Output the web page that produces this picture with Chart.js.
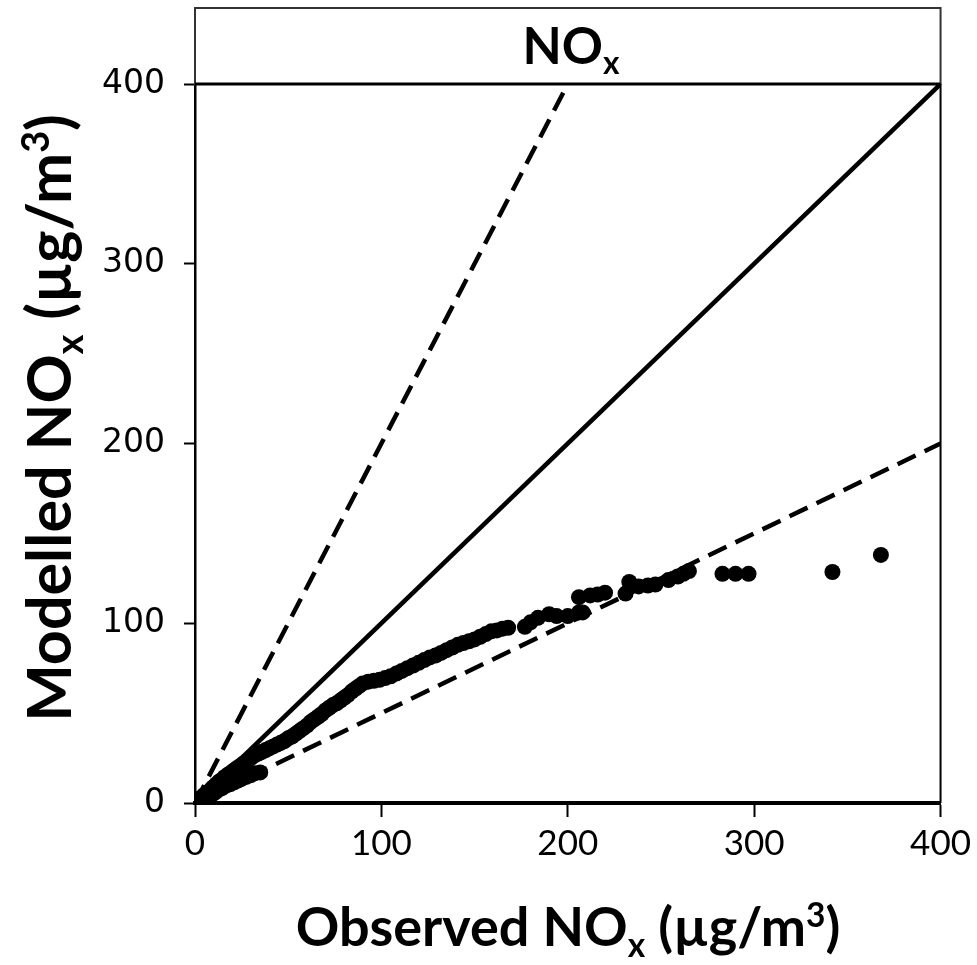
<!DOCTYPE html>
<html>
<head>
<meta charset="utf-8">
<script src="https://cdn.jsdelivr.net/npm/chart.js@4"></script>
<style>
html,body{margin:0;padding:0;background:#fff;}
canvas{display:block;}
</style>
</head>
<body>
<canvas id="c" width="977" height="965"></canvas>
<script>
// ---- data ----
const obsNOx = [0.5,1,1.5,2,2.5,3,3.5,4,5,5.5,6,7,7.5,8,9,9.5,10,11,11.5,12,13,14,14.5,15.5,16,17,18,19,20,21,22,23,24,25,26,27.5,28,30,30,32,32,34,35,36,38,40,42,44,46,48,50,52,54,56,58,60,62,64,66,68,70,72,74,76,78,80,82,84,86,88,90,93,96,99,102,105,108,111,114,117,120,123,126,129,132,135,138,141,144,147,150,153,156,159,162,165,168,177,180,184,190,194,200,206,208,206,212,216,220,231,233,238,243,247,254,259,262,265,283,290,297,342,368];
const modNOx = [0.5,0.3,1.5,1,2.5,1.5,3,2,4.5,2.5,5,3.5,6.5,4.5,8,5,9,6,10.5,7,12,8,13,9,14.5,10,16,10.5,17.5,11.5,19,12.5,20.5,13.5,22,14.5,23.5,15.5,25,16.5,26.5,27.5,17,28.5,29.5,30.5,31.5,32.5,33.5,34.5,36,37,38.5,40,41.5,43,45,46.5,48,49.5,51.5,53,54.5,55.5,57,58.5,60,62,63.5,65,66.5,67.5,68,68.5,69.5,70.5,72,73.5,75,76.5,78,79.5,81,82,83.5,85,86.5,88,89,90,91,92.5,94,95.5,96,97,97.5,98,100.5,103,105,104,104,106,106,114.5,115.5,116,117,116.5,123,120.5,121,121.5,124,126,127.5,129,127.5,127.5,127.5,128.5,138];
const lineX_1to1 = [0, 400];
const lineY_1to1 = [0, 400];
const lineX_2to1 = [0, 200];
const lineY_2to1 = [0, 400];
const lineX_1to2 = [0, 400];
const lineY_1to2 = [0, 200];
const axisTicks = [0, 100, 200, 300, 400];
const titleText = [{t:'NO'},{t:'x',sub:true}];
const xTitleText = [{t:'Observed NO'},{t:'x',sub:true},{t:' (µg/m'},{t:'3',sup:true},{t:')'}];
const yTitleText = [{t:'Modelled NO'},{t:'x',sub:true},{t:' (µg/m'},{t:'3',sup:true},{t:')'}];

const pts = (xs, ys) => xs.map((x, i) => ({x: x, y: ys[i]}));

function drawRich(ctx, segs, cx, baseY, size, family, weight) {
  const f = (s) => weight + ' ' + s + 'px ' + family;
  let total = 0;
  const widths = segs.map(sg => {
    ctx.font = f(sg.sub || sg.sup ? size * 0.62 : size);
    const w = ctx.measureText(sg.t).width;
    total += w;
    return w;
  });
  let x = cx - total / 2;
  ctx.textAlign = 'left';
  ctx.textBaseline = 'alphabetic';
  segs.forEach((sg, i) => {
    let dy = 0, s = size;
    if (sg.sub) { s = size * 0.62; dy = size * 0.2; }
    if (sg.sup) { s = size * 0.62; dy = -size * 0.36; }
    ctx.font = f(s);
    ctx.fillText(sg.t, x, baseY + dy);
    x += widths[i];
  });
}

const decor = {
  id: 'decor',
  afterDraw(chart) {
    const ctx = chart.ctx;
    const a = chart.chartArea;
    ctx.save();
    ctx.strokeStyle = '#333';
    ctx.lineWidth = 2;
    ctx.strokeRect(a.left, 8, a.right - a.left, a.top - 8);
    ctx.strokeStyle = '#000';
    ctx.lineWidth = 3;
    ctx.beginPath(); ctx.moveTo(a.left, a.top); ctx.lineTo(a.right, a.top); ctx.stroke();
    ctx.lineWidth = 2;
    ctx.beginPath(); ctx.moveTo(a.right, a.top); ctx.lineTo(a.right, a.bottom); ctx.stroke();
    ctx.fillStyle = '#000';
    drawRich(ctx, titleText, 571, 64, 51, 'Lato', 'bold');
    drawRich(ctx, xTitleText, 568, 946, 54, 'Lato', 'bold');
    ctx.translate(71, 418);
    ctx.rotate(-Math.PI / 2);
    drawRich(ctx, yTitleText, 0, 0, 61, 'Lato', 'bold');
    ctx.restore();
  }
};

new Chart(document.getElementById('c'), {
  type: 'scatter',
  data: {
    datasets: [
      { type: 'scatter', label: 'data', data: pts(obsNOx, modNOx), order: 0,
        pointRadius: 8, pointHoverRadius: 8, pointBackgroundColor: '#000', pointBorderWidth: 0, borderColor: '#000' },
      { type: 'line', label: '1:1', data: pts(lineX_1to1, lineY_1to1), order: 1,
        borderColor: '#000', borderWidth: 4.5, pointRadius: 0, fill: false },
      { type: 'line', label: '2:1', data: pts(lineX_2to1, lineY_2to1), order: 1,
        borderColor: '#000', borderWidth: 4.5, borderDash: [20, 10], pointRadius: 0, fill: false },
      { type: 'line', label: '1:2', data: pts(lineX_1to2, lineY_1to2), order: 1,
        borderColor: '#000', borderWidth: 4.5, borderDash: [20, 10], pointRadius: 0, fill: false }
    ]
  },
  options: {
    responsive: false,
    animation: false,
    layout: { padding: { left: 0, top: 84, right: 34, bottom: 0 } },
    plugins: { legend: { display: false }, tooltip: { enabled: false }, title: { display: false } },
    scales: {
      x: {
        type: 'linear', min: 0, max: 400,
        afterBuildTicks: s => { s.ticks = axisTicks.map(v => ({value: v})); },
        afterFit: s => { s.height = 162; },
        grid: { drawOnChartArea: false, drawTicks: true, tickLength: 14, tickWidth: 2, tickColor: '#000' },
        border: { display: true, color: '#000', width: 4 },
        ticks: { color: '#000', padding: 6, font: { family: 'Lato', size: 35 }, maxRotation: 0 }
      },
      y: {
        type: 'linear', min: 0, max: 400,
        afterBuildTicks: s => { s.ticks = axisTicks.map(v => ({value: v})); },
        afterFit: s => { s.width = 195; },
        grid: { drawOnChartArea: false, drawTicks: true, tickLength: 11, tickWidth: 2, tickColor: '#000' },
        border: { display: true, color: '#000', width: 2.5 },
        ticks: { color: '#000', padding: 19, font: { family: 'DejaVu Sans', size: 33 } }
      }
    }
  },
  plugins: [decor]
});
</script>
</body>
</html>
